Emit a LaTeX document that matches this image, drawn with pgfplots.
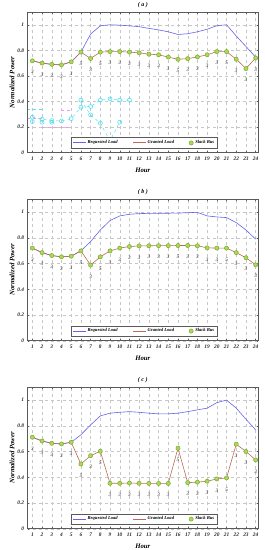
\documentclass[border=0pt]{standalone}
\usepackage{fontspec}
\setmainfont{Liberation Serif}
\usepackage{pgfplots}
\usepackage{pgfplotstable}
\pgfplotsset{compat=1.18}

\definecolor{reqblue}{RGB}{100,100,232}
\definecolor{grantred}{RGB}{190,105,85}
\definecolor{slackedge}{RGB}{115,175,35}
\definecolor{slackfill}{RGB}{175,215,95}
\definecolor{ghostcyan}{RGB}{80,225,240}
\definecolor{ghostmag}{RGB}{240,150,235}
\definecolor{framegray}{RGB}{90,90,90}

\pgfplotstableread{
h req gr bus
1 0.718 0.718 3
2 0.700 0.700 3
3 0.690 0.690 3
4 0.686 0.686 3
5 0.710 0.710 3
6 0.786 0.786 5
7 0.927 0.736 3
8 0.992 0.786 5
9 1.000 0.790 3
10 0.997 0.790 3
11 0.992 0.786 3
12 0.985 0.780 3
13 0.972 0.770 3
14 0.960 0.765 3
15 0.945 0.747 3
16 0.924 0.730 5
17 0.930 0.735 3
18 0.945 0.748 3
19 0.965 0.765 3
20 0.993 0.790 3
21 1.000 0.790 5
22 0.912 0.730 3
23 0.830 0.657 3
24 0.746 0.740 3
}\tabA

\pgfplotstableread{
h req gr bus
1 0.720 0.720 3
2 0.685 0.685 3
3 0.662 0.662 3
4 0.652 0.652 3
5 0.657 0.657 3
6 0.698 0.698 5
7 0.771 0.588 3
8 0.861 0.652 5
9 0.934 0.698 3
10 0.970 0.720 3
11 0.983 0.732 3
12 0.988 0.737 3
13 0.990 0.738 3
14 0.990 0.739 3
15 0.991 0.739 3
16 0.992 0.740 5
17 0.995 0.740 3
18 0.998 0.738 3
19 0.970 0.722 3
20 0.962 0.720 3
21 0.957 0.720 5
22 0.918 0.685 3
23 0.861 0.645 3
24 0.789 0.590 3
}\tabB

\pgfplotstableread{
h req gr bus
1 0.711 0.711 3
2 0.682 0.682 3
3 0.664 0.664 3
4 0.659 0.659 3
5 0.672 0.672 3
6 0.730 0.503 5
7 0.807 0.568 3
8 0.877 0.602 5
9 0.898 0.353 3
10 0.905 0.353 3
11 0.910 0.355 3
12 0.905 0.353 3
13 0.898 0.352 3
14 0.893 0.352 3
15 0.893 0.352 3
16 0.898 0.626 5
17 0.910 0.358 3
18 0.924 0.362 3
19 0.937 0.369 3
20 0.980 0.387 3
21 1.000 0.395 5
22 0.937 0.657 3
23 0.851 0.600 3
24 0.768 0.535 3
}\tabC

\newcommand{\tickfont}{\fontsize{5.4}{6}\selectfont\bfseries\itshape}
\newcommand{\labfont}{\fontsize{6.8}{8}\selectfont\bfseries\itshape}
\newcommand{\legfont}{\fontsize{4.6}{5.5}\selectfont\bfseries\itshape}
\newcommand{\numfont}{\fontsize{5.2}{6}\selectfont\itshape}

\pgfplotsset{
  panel/.style={
    scale only axis,
    width=230.6bp,
    xmin=0.5, xmax=24.25,
    ymin=0, ymax=1.1,
    xtick={1,...,24},
    ytick={0,0.2,0.4,0.6,0.8,1},
    yticklabels={0,0.2,0.4,0.6,0.8,1},
    /pgf/number format/assume math mode=true,
    ticklabel style={font=\tickfont, text=black!85},
    xticklabel style={yshift=-1bp},
    grid=major,
    major grid style={dashed, black!22, line width=0.35pt},
    axis line style={framegray, line width=0.5pt},
    major tick length=1.5bp,
    tick style={framegray, line width=0.4pt},
    xlabel={Hour},
    ylabel={Normalized Power},
    label style={font=\labfont},
    xlabel style={yshift=-0.5bp},
    ylabel style={yshift=-4bp},
    title style={font=\fontsize{6}{7}\selectfont\bfseries\itshape, yshift=-5bp},
    legend columns=3,
    legend style={at={(0.507,0.068)}, anchor=center, font=\legfont,
      fill=white, inner sep=1bp, row sep=0pt},
    legend cell align=left,
    /tikz/every even column/.append style={column sep=13bp},
  },
  reqstyle/.style={color=reqblue, line width=0.6pt, no markers,
    legend image code/.code={%
      \pgfsetfillcolor{reqblue}%
      \pgfpathrectangle{\pgfqpoint{0bp}{-0.45bp}}{\pgfqpoint{13bp}{0.9bp}}%
      \pgfusepath{fill}}},
  grantstyle/.style={color=grantred, line width=0.6pt, no markers,
    legend image code/.code={%
      \pgfsetfillcolor{grantred}%
      \pgfpathrectangle{\pgfqpoint{0bp}{-0.45bp}}{\pgfqpoint{13bp}{0.9bp}}%
      \pgfusepath{fill}}},
  slackstyle/.style={only marks, mark=*, mark size=2.1bp,
    mark options={draw=slackedge, fill=slackfill, line width=0.5pt},
    nodes near coords, point meta=explicit symbolic,
    every node near coord/.style={font=\numfont, text=black!85, anchor=center, yshift=-11.5bp}},
  every axis legend/.append style={draw=framegray, line width=0.4pt},
}

\begin{document}
\begin{tikzpicture}
\useasboundingbox (0,0) rectangle (265bp,-550bp);

% ---------------- (a)
\begin{axis}[panel, height=140.5bp, at={(27.5bp,-152.5bp)}, anchor=south west,
  title={( a )}]
  % faint ghost traces visible in the reference
  \addplot[forget plot, ghostcyan, dashed, line width=0.5pt, mark=o, mark size=2bp,
    mark options={solid, line width=0.6pt}] coordinates {
    (1,0.276)(2,0.26)(3,0.25)(4,0.247)(5,0.265)(6,0.354)(7,0.36)(8,0.41)(9,0.42)(10,0.41)(11,0.41)};
  \addplot[forget plot, ghostcyan, dashed, line width=0.5pt, mark=o, mark size=2bp,
    mark options={solid, line width=0.6pt}] coordinates {
    (6,0.41)(7,0.294)(8,0.229)(9,0.093)(10,0.237)};
  \addplot[forget plot, only marks, ghostcyan, mark=o, mark size=2bp, line width=0.6pt] coordinates {
    (1,0.242)(2,0.237)(3,0.237)};
  \addplot[forget plot, ghostmag, dashed, line width=0.5pt] coordinates {(0.5,0.27)(2,0.27)};
  \addplot[forget plot, ghostmag, dashed, line width=0.5pt] coordinates {(2,0.2)(5,0.2)};
  \addplot[forget plot, ghostmag, dashed, line width=0.5pt] coordinates {(4,0.33)(5,0.33)};
  \addplot[forget plot, ghostcyan, dashed, line width=0.5pt] coordinates {(0.5,0.34)(2,0.34)};
  \addplot[reqstyle] table[x=h, y=req] {\tabA};
  \addlegendentry{Requested Load}
  \addplot[grantstyle] table[x=h, y=gr] {\tabA};
  \addlegendentry{Granted Load}
  \addplot[slackstyle] table[x=h, y=gr, meta=bus] {\tabA};
  \addlegendentry{Slack Bus}
\end{axis}

% ---------------- (b)
\begin{axis}[panel, height=141.5bp, at={(27.5bp,-340.7bp)}, anchor=south west,
  title={( b )}]
  \addplot[reqstyle] table[x=h, y=req] {\tabB};
  \addlegendentry{Requested Load}
  \addplot[grantstyle] table[x=h, y=gr] {\tabB};
  \addlegendentry{Granted Load}
  \addplot[slackstyle] table[x=h, y=gr, meta=bus] {\tabB};
  \addlegendentry{Slack Bus}
\end{axis}

% ---------------- (c)
\begin{axis}[panel, height=141.5bp, at={(27.5bp,-528.7bp)}, anchor=south west,
  title={( c )}]
  \addplot[reqstyle] table[x=h, y=req] {\tabC};
  \addlegendentry{Requested Load}
  \addplot[grantstyle] table[x=h, y=gr] {\tabC};
  \addlegendentry{Granted Load}
  \addplot[slackstyle] table[x=h, y=gr, meta=bus] {\tabC};
  \addlegendentry{Slack Bus}
\end{axis}
\end{tikzpicture}
\end{document}
